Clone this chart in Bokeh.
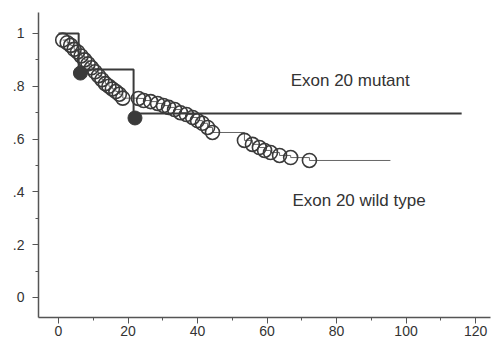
from bokeh.plotting import figure
from bokeh.models import FixedTicker, Range1d, Label
from bokeh.embed import file_html
from bokeh.resources import INLINE

# Exon 20 wild type: event times (months) and survival estimates
wt_time = [1.2, 2.5, 3.5, 4.5, 5.5, 6.5, 7.5, 8.5, 9.5, 10.5, 11.5, 12.5, 13.5,
           14.5, 15.5, 16.5, 17.5, 18.5,
           23.0, 24.5, 26.5, 28.5, 30.2, 31.7, 33.4, 35.1, 36.8, 38.6, 40.0,
           41.4, 42.9, 44.3,
           53.5, 55.8, 57.8, 59.3, 61.0, 63.6, 66.8, 72.2]
wt_surv = [0.975, 0.965, 0.955, 0.94, 0.93, 0.915, 0.90, 0.885, 0.87, 0.855,
           0.84, 0.825, 0.81, 0.80, 0.79, 0.78, 0.77, 0.755,
           0.754, 0.746, 0.742, 0.735, 0.727, 0.72, 0.712, 0.70, 0.693, 0.682,
           0.67, 0.66, 0.644, 0.625,
           0.595, 0.58, 0.568, 0.557, 0.549, 0.538, 0.53, 0.519]
wt_end = 95.5

# Exon 20 mutant: step curve and event marks
mut_time = [0.0, 5.8, 21.6]
mut_surv = [1.0, 0.864, 0.697]
mut_end = 116.0
mut_mark_time = [6.3, 22.0]
mut_mark_surv = [0.85, 0.68]

x_ticks = [0, 20, 40, 60, 80, 100, 120]
x_minor = [10, 30, 50, 70, 90, 110]
y_ticks = [0, 0.2, 0.4, 0.6, 0.8, 1]
y_labels = ["0", ".2", ".4", ".6", ".8", "1"]
y_minor = [0.1, 0.3, 0.5, 0.7, 0.9]

FONT = "Liberation Sans"
INK = "#3a3a3a"

p = figure(width=495, height=345, output_backend="svg", toolbar_location=None,
           x_range=Range1d(-5.76, 124.3), y_range=Range1d(-0.0758, 1.0795),
           min_border_left=38, min_border_right=5, min_border_top=12,
           min_border_bottom=28)
p.outline_line_color = None
p.grid.visible = False
p.background_fill_color = "white"

# wild type step line
p.step(wt_time + [wt_end], wt_surv + [wt_surv[-1]], mode="after",
       line_color="#666666", line_width=1)
p.scatter(wt_time, wt_surv, marker="circle", size=14, fill_color=None,
          line_color=INK, line_width=1.6)

# mutant step line
p.step(mut_time + [mut_end], mut_surv + [mut_surv[-1]], mode="after",
       line_color=INK, line_width=2)
p.scatter(mut_mark_time, mut_mark_surv, marker="circle", size=14,
          fill_color=INK, line_color=INK)

p.add_layout(Label(x=66.8, y=0.822, text="Exon 20 mutant", text_font=FONT,
                   text_font_size="17px", text_color="#333333",
                   text_baseline="middle", text_align="left"))
p.add_layout(Label(x=67.3, y=0.367, text="Exon 20 wild type", text_font=FONT,
                   text_font_size="17px", text_color="#333333",
                   text_baseline="middle", text_align="left"))

for ax in (p.xaxis[0], p.yaxis[0]):
    ax.axis_line_color = "#555555"
    ax.axis_line_width = 1.5
    ax.major_tick_line_color = "#555555"
    ax.minor_tick_line_color = "#555555"
    ax.major_tick_in = 0
    ax.minor_tick_in = 0
    ax.major_tick_out = 6
    ax.minor_tick_out = 3
    ax.major_label_text_font = FONT
    ax.major_label_text_font_size = "14px"
    ax.major_label_text_color = "#333333"

p.xaxis[0].ticker = FixedTicker(ticks=x_ticks, minor_ticks=x_minor)
p.xaxis[0].major_label_standoff = 2
p.yaxis[0].ticker = FixedTicker(ticks=y_ticks, minor_ticks=y_minor)
p.yaxis[0].major_label_overrides = dict(zip(y_ticks, y_labels))
p.yaxis[0].major_label_standoff = 8

open("out.html", "w").write(file_html(p, INLINE))
